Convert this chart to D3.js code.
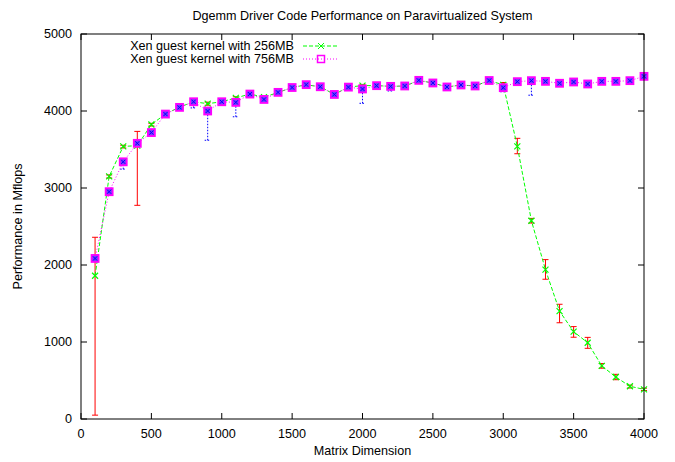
<!DOCTYPE html>
<html>
<head>
<meta charset="utf-8">
<script src="https://cdn.jsdelivr.net/npm/d3@7"></script>
<style>
  body { margin: 0; background: #fff; }
  text { font-family: "Liberation Sans", Arial, sans-serif; font-size: 12.6px; fill: #000; }
</style>
</head>
<body>
<div id="chart"></div>
<script>
// matrix sizes
var dims = [100, 200, 300, 400, 500, 600, 700, 800, 900, 1000,
            1100, 1200, 1300, 1400, 1500, 1600, 1700, 1800, 1900, 2000,
            2100, 2200, 2300, 2400, 2500, 2600, 2700, 2800, 2900, 3000,
            3100, 3200, 3300, 3400, 3500, 3600, 3700, 3800, 3900, 4000];

// Xen guest kernel with 256MB
var perf256 = [1860, 3150, 3540, 3550, 3825, 3960, 4050, 4120, 4095, 4120,
               4170, 4220, 4180, 4240, 4305, 4340, 4315, 4215, 4310, 4330,
               4330, 4320, 4325, 4395, 4365, 4312, 4338, 4325, 4395, 4340,
               3540, 2575, 1940, 1400, 1135, 990, 690, 545, 425, 385];
var low256  = [50, 3130, 3520, 2775, 3805, 3945, 4035, 4100, 4075, 4100,
               4150, 4200, 4160, 4225, 4290, 4325, 4300, 4200, 4295, 4315,
               4315, 4305, 4310, 4380, 4350, 4298, 4324, 4310, 4380, 4320,
               3445, 2545, 1815, 1250, 1062, 918, 660, 510, 402, 370];
var high256 = [2360, 3170, 3555, 3735, 3840, 3975, 4065, 4135, 4115, 4135,
               4185, 4235, 4195, 4255, 4320, 4355, 4330, 4230, 4325, 4345,
               4345, 4335, 4340, 4410, 4380, 4326, 4352, 4340, 4410, 4370,
               3645, 2605, 2070, 1490, 1200, 1060, 720, 580, 440, 400];

// Xen guest kernel with 756MB
var perf756 = [2085, 2952, 3340, 3580, 3720, 3960, 4047, 4120, 4000, 4120,
               4112, 4220, 4150, 4242, 4305, 4342, 4315, 4215, 4310, 4286,
               4329, 4320, 4325, 4398, 4364, 4312, 4338, 4325, 4396, 4303,
               4381, 4394, 4385, 4360, 4377, 4351, 4385, 4385, 4394, 4450];
var low756  = [2070, 2935, 3245, 3565, 3705, 3945, 4030, 4040, 3620, 4105,
               3925, 4205, 4130, 4228, 4290, 4328, 4300, 4200, 4295, 4100,
               4315, 4260, 4310, 4384, 4350, 4298, 4324, 4310, 4382, 4250,
               4366, 4205, 4370, 4330, 4362, 4336, 4370, 4370, 4380, 4436];
var high756 = [2100, 2968, 3355, 3595, 3735, 3975, 4062, 4135, 4015, 4135,
               4127, 4235, 4165, 4256, 4320, 4356, 4330, 4230, 4325, 4300,
               4343, 4335, 4340, 4412, 4378, 4326, 4352, 4340, 4410, 4318,
               4395, 4408, 4400, 4375, 4392, 4366, 4400, 4400, 4408, 4464];

var xTicks = [0, 500, 1000, 1500, 2000, 2500, 3000, 3500, 4000];
var yTicks = [0, 1000, 2000, 3000, 4000, 5000];

var width = 675, height = 462;
var margin = {top: 34, right: 31, bottom: 43, left: 81};

var svg = d3.select('#chart').append('svg')
    .attr('width', width)
    .attr('height', height);

var x = d3.scaleLinear().domain([0, 4000]).range([margin.left, width - margin.right]);
var y = d3.scaleLinear().domain([0, 5000]).range([height - margin.bottom, margin.top]);

var green = '#00ff00', magenta = '#ff00ff', red = '#ff0000', blue = '#0000ff';

// ticks, all four sides, pointing inward
var tk = 6;
var tg = svg.append('g').attr('stroke', '#000').attr('stroke-width', 1);
xTicks.forEach(function(d) {
    tg.append('line').attr('x1', x(d)).attr('x2', x(d)).attr('y1', y(0)).attr('y2', y(0) - tk);
    tg.append('line').attr('x1', x(d)).attr('x2', x(d)).attr('y1', y(5000)).attr('y2', y(5000) + tk);
});
yTicks.forEach(function(d) {
    tg.append('line').attr('x1', x(0)).attr('x2', x(0) + tk).attr('y1', y(d)).attr('y2', y(d));
    tg.append('line').attr('x1', x(4000)).attr('x2', x(4000) - tk).attr('y1', y(d)).attr('y2', y(d));
});

svg.append('g').selectAll('text')
    .data(xTicks).enter().append('text')
    .attr('x', function(d) { return x(d); })
    .attr('y', y(0) + 19)
    .attr('text-anchor', 'middle')
    .text(function(d) { return d; });

svg.append('g').selectAll('text')
    .data(yTicks).enter().append('text')
    .attr('x', x(0) - 9)
    .attr('y', function(d) { return y(d) + 4; })
    .attr('text-anchor', 'end')
    .text(function(d) { return d; });

// error bars
function errorBars(lo, hi, color, dash) {
    var g = svg.append('g').attr('stroke', color).attr('stroke-width', 1)
        .attr('stroke-dasharray', dash);
    dims.forEach(function(d, i) {
        var cx = x(d);
        g.append('line').attr('x1', cx).attr('x2', cx).attr('y1', y(lo[i])).attr('y2', y(hi[i]));
        g.append('line').attr('x1', cx - 3).attr('x2', cx + 3).attr('y1', y(lo[i])).attr('y2', y(lo[i]));
        g.append('line').attr('x1', cx - 3).attr('x2', cx + 3).attr('y1', y(hi[i])).attr('y2', y(hi[i]));
    });
}
errorBars(low256, high256, red, null);
errorBars(low756, high756, blue, '1.5,1.5');

var line = d3.line()
    .x(function(d) { return x(d[0]); })
    .y(function(d) { return y(d[1]); });

function crossPath(cx, cy, s) {
    return 'M' + (cx - s) + ',' + (cy - s) + 'L' + (cx + s) + ',' + (cy + s) +
           'M' + (cx - s) + ',' + (cy + s) + 'L' + (cx + s) + ',' + (cy - s);
}

// 256MB series
svg.append('path')
    .datum(dims.map(function(d, i) { return [d, perf256[i]]; }))
    .attr('fill', 'none').attr('stroke', green).attr('stroke-width', 1)
    .attr('stroke-dasharray', '4,2')
    .attr('d', line);

svg.append('g').selectAll('path')
    .data(dims).enter().append('path')
    .attr('d', function(d, i) { return crossPath(x(d), y(perf256[i]), 3); })
    .attr('stroke', green).attr('stroke-width', 1.2).attr('fill', 'none');

// 756MB series
svg.append('path')
    .datum(dims.map(function(d, i) { return [d, perf756[i]]; }))
    .attr('fill', 'none').attr('stroke', magenta).attr('stroke-width', 1)
    .attr('stroke-dasharray', '1,2')
    .attr('d', line);

svg.append('g').selectAll('rect')
    .data(dims).enter().append('rect')
    .attr('x', function(d) { return x(d) - 3.5; })
    .attr('y', function(d, i) { return y(perf756[i]) - 3.5; })
    .attr('width', 7).attr('height', 7)
    .attr('fill', '#7a3cff').attr('stroke', magenta).attr('stroke-width', 1.8);

svg.append('g').selectAll('path')
    .data(dims).enter().append('path')
    .attr('d', function(d, i) { return crossPath(x(d), y(perf756[i]), 2); })
    .attr('stroke', blue).attr('stroke-width', 1).attr('fill', 'none');

// border
svg.append('rect')
    .attr('x', x(0)).attr('y', y(5000))
    .attr('width', x(4000) - x(0)).attr('height', y(0) - y(5000))
    .attr('fill', 'none').attr('stroke', '#000').attr('stroke-width', 1);

// legend
var legend = [
    {label: 'Xen guest kernel with 256MB', color: green, dash: '4,2', mark: 'x'},
    {label: 'Xen guest kernel with 756MB', color: magenta, dash: '1,2', mark: 'sq'}
];
var lg = svg.append('g');
legend.forEach(function(l, i) {
    var ly = 46 + i * 13;
    lg.append('text').attr('x', 294).attr('y', ly + 4).attr('text-anchor', 'end').text(l.label);
    lg.append('line').attr('x1', 303).attr('x2', 338).attr('y1', ly).attr('y2', ly)
        .attr('stroke', l.color).attr('stroke-dasharray', l.dash);
    if (l.mark === 'x') {
        lg.append('path').attr('d', crossPath(321, ly, 3)).attr('stroke', l.color).attr('fill', 'none');
    } else {
        lg.append('rect').attr('x', 317.5).attr('y', ly - 3.5).attr('width', 7).attr('height', 7)
            .attr('fill', 'none').attr('stroke', l.color).attr('stroke-width', 1.5);
    }
});

// titles
svg.append('text')
    .attr('x', (x(0) + x(4000)) / 2).attr('y', 20)
    .attr('text-anchor', 'middle')
    .text('Dgemm Driver Code Performance on Paravirtualized System');

svg.append('text')
    .attr('x', (x(0) + x(4000)) / 2).attr('y', 455)
    .attr('text-anchor', 'middle')
    .text('Matrix Dimension');

svg.append('text')
    .attr('transform', 'translate(22,' + ((y(0) + y(5000)) / 2) + ') rotate(-90)')
    .attr('text-anchor', 'middle')
    .text('Performance in Mflops');
</script>
</body>
</html>
